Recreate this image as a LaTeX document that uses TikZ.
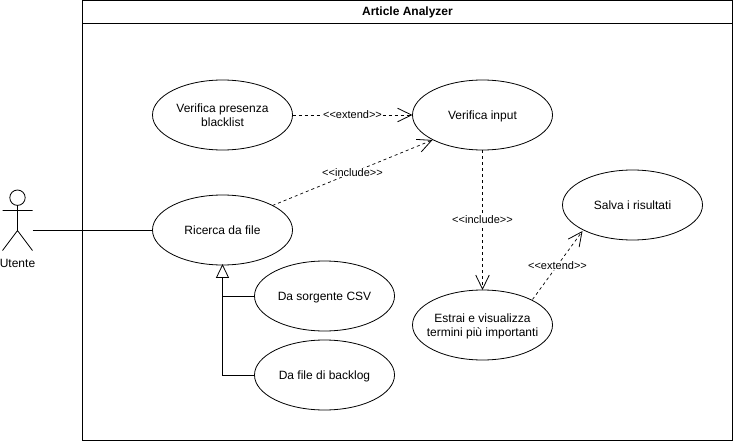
\documentclass[tikz,border=0pt]{standalone}
\usepackage{fontspec}
\setmainfont{Liberation Sans}[Ligatures=NoCommon]
\usetikzlibrary{arrows.meta,shapes.geometric}
\newcommand{\ctrline}[1]{\hbox to 0pt{\hss #1\hss}}
\newcommand{\gl}{<{}<}
\newcommand{\gr}{>{}>}
\tikzset{
  uc/.style={draw=black,fill=white,ellipse,minimum width=140pt,minimum height=70pt,inner sep=0pt,outer sep=0pt,align=center,text height=8.6pt,text depth=0pt,font=\fontsize{12}{14.5}\selectfont,line width=0.8pt},
  two lines/.style={text height=23.1pt},
  dep/.style={draw=black,dash pattern=on 3pt off 3pt,line width=0.7pt,-{Straight Barb[length=14pt,width=13.5pt,line width=0.8pt]}},
  lbl/.style={fill=white,inner sep=0.5pt,font=\fontsize{11}{13}\selectfont},
  solid line/.style={draw=black,line width=0.8pt}
}
\begin{document}
\begin{tikzpicture}[x=1pt,y=-1pt]
\useasboundingbox (0,0) rectangle (733,441);
\fill[white] (0,0) rectangle (733,441);
\node[draw=black,line width=0.8pt,minimum width=650pt,minimum height=440pt,inner sep=0pt,outer sep=0pt] (frame) at (407.5,220.5) {};
\coordinate (hl) at (82.5,23.5);
\coordinate (hr) at (732.5,23.5);
\draw[solid line] (hl) -- (hr);
\node[font=\bfseries\fontsize{12}{14}\selectfont] (title) at (407.5,12) {Article Analyzer};
\node[uc,two lines] (presenza) at (222.5,115) {\ctrline{Verifica presenza}\\\ctrline{blacklist}};
\node[uc] (input) at (482.5,115) {Verifica input};
\node[uc] (ricerca) at (222.5,230) {Ricerca da file};
\node[uc] (salva) at (632.5,205) {Salva i risultati};
\node[uc,two lines] (estrai) at (482.5,325) {\ctrline{Estrai e visualizza}\\\ctrline{termini più importanti}};
\node[uc] (csv) at (324.5,296) {Da sorgente CSV};
\node[uc] (backlog) at (324.5,375) {Da file di backlog};
% actor
\coordinate (neck) at (17.5,205.5);
\coordinate (hip) at (17.5,230.5);
\coordinate (armL) at (2.5,210.5);
\coordinate (armR) at (32.5,210.5);
\coordinate (legL) at (2.5,250.5);
\coordinate (legR) at (32.5,250.5);
\draw[solid line] (17.5,197.7) circle (7.7);
\draw[solid line] (neck) -- (hip) (armL) -- (armR) (legL) -- (hip) -- (legR);
\node[font=\fontsize{12}{14}\selectfont] (utente) at (17.5,263.7) {Utente};
\coordinate (actorEnd) at (32.5,230);
\draw[solid line] (actorEnd) -- (ricerca.west);
% generalization
\coordinate (tri) at (222.5,277.5);
\draw[solid line] (csv.west) -- (222.5,296) -- (tri);
\draw[solid line] (backlog.west) -- (222.5,375) -- (tri);
\draw[solid line,fill=white] (ricerca.south) -- (228.5,277.5) -- (216.5,277.5) -- cycle;
% dependencies
\draw[dep] (presenza.east) -- node[lbl,pos=0.5] (l1) {\gl extend\gr} (input.west);
\coordinate (a1) at (272.5,205.5);
\coordinate (a2) at (432.5,140);
\draw[dep] (a1) -- node[lbl,pos=0.5] (l2) {\gl include\gr} (a2);
\draw[dep] (input.south) -- node[lbl,pos=0.5] (l3) {\gl include\gr} (estrai.north);
\coordinate (a3) at (532.5,299.5);
\coordinate (a4) at (582.5,231);
\draw[dep] (a3) -- node[lbl,pos=0.5] (l4) {\gl extend\gr} (a4);
\end{tikzpicture}
\end{document}
